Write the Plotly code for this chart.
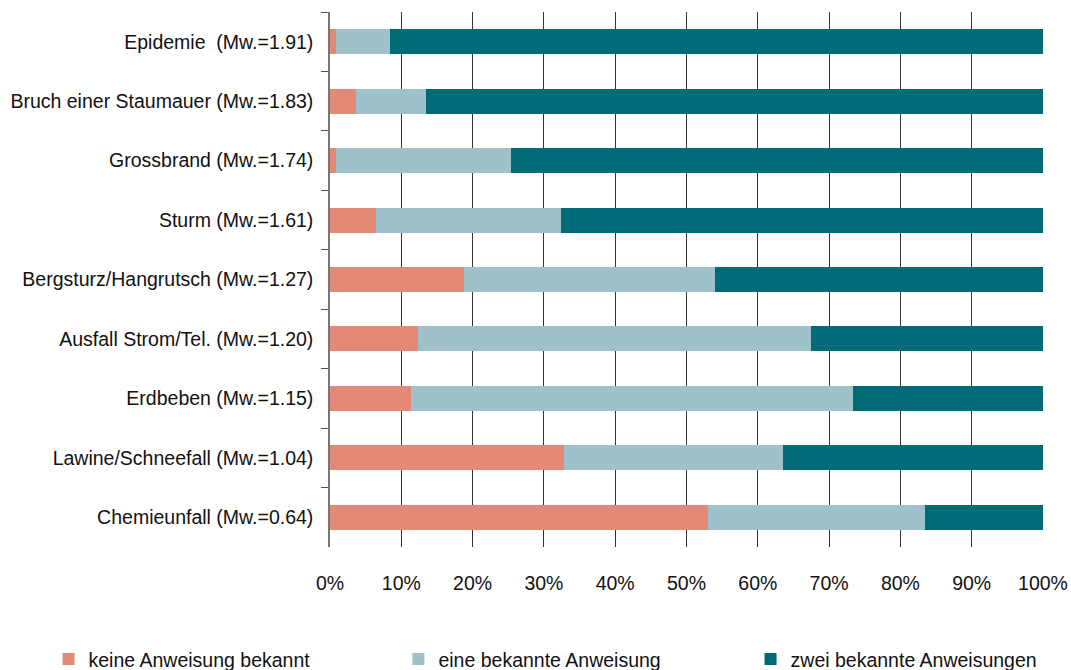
import plotly.graph_objects as go

categories = [
    "Epidemie\u00a0 (Mw.=1.91)",
    "Bruch einer Staumauer (Mw.=1.83)",
    "Grossbrand (Mw.=1.74)",
    "Sturm (Mw.=1.61)",
    "Bergsturz/Hangrutsch (Mw.=1.27)",
    "Ausfall Strom/Tel. (Mw.=1.20)",
    "Erdbeben (Mw.=1.15)",
    "Lawine/Schneefall (Mw.=1.04)",
    "Chemieunfall (Mw.=0.64)",
]
keine = [0.8, 3.7, 0.8, 6.5, 18.8, 12.3, 11.4, 32.8, 53.0]
eine = [7.6, 9.8, 24.6, 25.9, 35.2, 55.2, 62.0, 30.7, 30.5]
zwei = [91.6, 86.5, 74.6, 67.6, 46.0, 32.5, 26.6, 36.5, 16.5]

series_names = ["keine Anweisung bekannt", "eine bekannte Anweisung", "zwei bekannte Anweisungen"]
colors = ["#E48878", "#9EC1CA", "#006B76"]
legend_ids = ["legend", "legend2", "legend3"]
legend_x = [0.0453, 0.372, 0.7008]
tick_vals = [0, 10, 20, 30, 40, 50, 60, 70, 80, 90, 100]
tick_text = [f"{v}%" for v in tick_vals]

fig = go.Figure()
for name, vals, col, lid in zip(series_names, [keine, eine, zwei], colors, legend_ids):
    fig.add_trace(go.Bar(
        y=categories, x=vals, name=name, orientation="h",
        marker=dict(color=col, line=dict(width=0)), legend=lid,
    ))

font = "Liberation Sans, Arial, sans-serif"
legend_common = dict(
    orientation="h", xref="container", yref="container",
    y=0.016, xanchor="left", yanchor="middle",
    font=dict(size=19.5, color="#111111"), itemwidth=30,
)
fig.update_layout(
    width=1071, height=670,
    barmode="stack", bargap=0.58,
    plot_bgcolor="white", paper_bgcolor="white",
    margin=dict(l=330, r=28, t=12, b=123, autoexpand=False),
    font=dict(family=font, size=19.5, color="#111111"),
    showlegend=True,
    legend=dict(x=legend_x[0], **legend_common),
    legend2=dict(x=legend_x[1], **legend_common),
    legend3=dict(x=legend_x[2], **legend_common),
    xaxis=dict(
        range=[0, 100], tickvals=tick_vals, ticktext=tick_text,
        showgrid=True, gridcolor="#333333", gridwidth=1,
        zeroline=False, showline=False, ticks="",
        ticklabelstandoff=22, fixedrange=True,
    ),
    yaxis=dict(
        categoryorder="array", categoryarray=categories, autorange="reversed",
        showline=True, linecolor="#777777", linewidth=1.5,
        ticks="outside", tickson="boundaries", ticklen=7, tickcolor="#555555",
        showgrid=False, ticklabelstandoff=11,
    ),
)

fig.write_html("out.html")
